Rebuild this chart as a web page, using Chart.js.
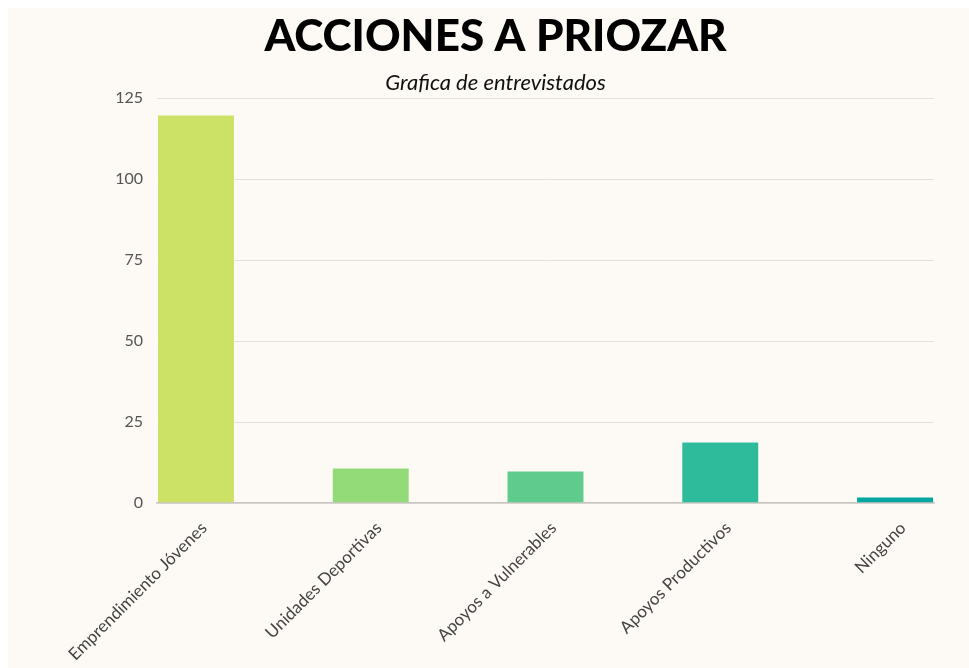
<!DOCTYPE html>
<html>
<head>
<meta charset="utf-8">
<script src="https://cdn.jsdelivr.net/npm/chart.js@4"></script>
<style>
  html, body { margin: 0; padding: 0; background: #ffffff; }
  #wrap { position: absolute; left: 8px; top: 8px; width: 961px; height: 660px; background: #fdfaf5; }
</style>
</head>
<body>
<div id="wrap"><canvas id="chart"></canvas></div>
<script>
// data
var categories = ["Emprendimiento Jóvenes", "Unidades Deportivas", "Apoyos a Vulnerables", "Apoyos Productivos", "Ninguno"];
var values = [120, 11, 10, 19, 2];
var barColors = ["#cbe266", "#93da78", "#5fcb8c", "#2ebb9c", "#00a69f"];
var yTicks = [0, 25, 50, 75, 100, 125];

var points = values.map(function (v, i) {
  return { x: i, y: v };
});

const ctx = document.getElementById("chart").getContext("2d");

const chart = new Chart(ctx, {
  type: "bar",
  data: {
    datasets: [
      {
        data: points,
        backgroundColor: barColors,
        borderColor: "rgba(255,255,255,0.35)",
        borderWidth: 1,
        categoryPercentage: 1,
        barPercentage: 0.446,
      },
    ],
  },
  options: {
    responsive: true,
    maintainAspectRatio: false,
    animation: false,
    layout: { padding: { top: 0, right: 0, bottom: 0, left: 14 } },
    plugins: {
      legend: { display: false },
      tooltip: { enabled: false },
      title: {
        display: true,
        text: "ACCIONES A PRIOZAR",
        color: "#000",
        font: { family: "Lato", size: 44, weight: "900", lineHeight: 1.2 },
        padding: { top: 2, bottom: 2 },
      },
      subtitle: {
        display: true,
        text: "Grafica de entrevistados",
        color: "#111",
        font: { family: "Lato", size: 22, style: "italic", lineHeight: 1.2 },
        padding: { top: 5, bottom: 2 },
      },
    },
    scales: {
      x: {
        type: "linear",
        min: -0.223,
        max: 4.223,
        offset: false,
        afterFit: function (scale) {
          scale.height = 165;
        },
        grid: { display: false, offset: false },
        border: { display: true, color: "#c9c5c1", width: 1.5 },
        ticks: {
          stepSize: 1,
          includeBounds: false,
          autoSkip: false,
          maxRotation: 45,
          minRotation: 45,
          padding: 7,
          labelOffset: 8,
          color: "#444",
          font: { family: "Lato", size: 17 },
          callback: function (v) {
            return Number.isInteger(v) ? categories[v] : "";
          },
        },
      },
      y: {
        min: 0,
        max: 125,
        afterFit: function (scale) {
          scale.width = 135;
        },
        afterBuildTicks: function (scale) {
          scale.ticks = yTicks.map(function (t) {
            return { value: t };
          });
        },
        grid: { color: "#e4e1dd", lineWidth: 1, drawTicks: false },
        border: { display: false },
        ticks: {
          padding: 14,
          color: "#555",
          font: { family: "Lato", size: 16 },
        },
      },
      yRight: {
        position: "right",
        afterFit: function (scale) {
          scale.width = 35;
        },
        grid: { display: false },
        border: { display: false },
        ticks: { display: false },
      },
    },
  },
});
</script>
</body>
</html>
